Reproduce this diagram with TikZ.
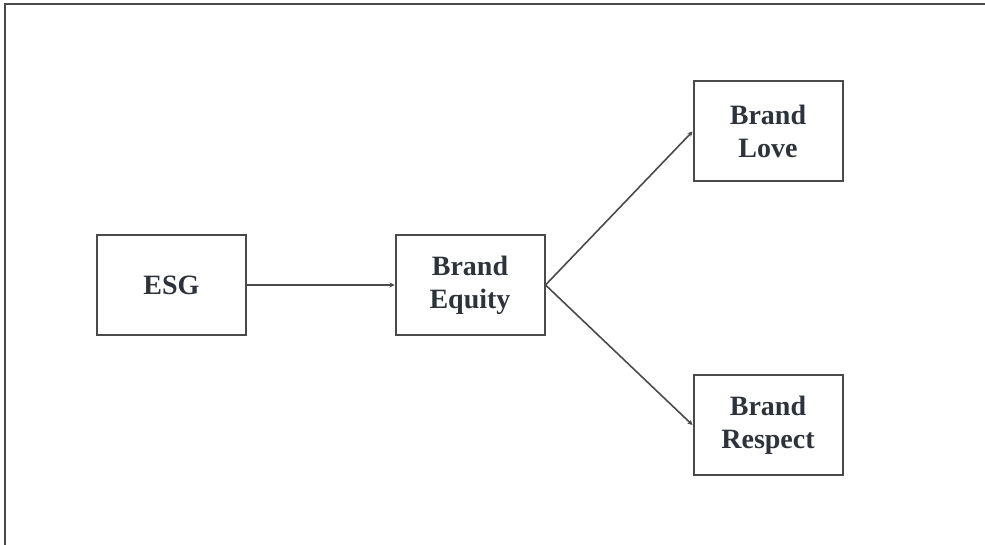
\documentclass[tikz,border=0pt]{standalone}
\usepackage{fontspec}
\setmainfont{Liberation Serif}
\usepackage{xcolor}
\usetikzlibrary{arrows.meta}
\definecolor{inkgray}{HTML}{2E333B}
\definecolor{linegray}{HTML}{4A4A4A}
\tikzset{
  concept/.style={draw=linegray,line width=2pt,minimum width=149pt,minimum height=100pt,
    align=center,text=inkgray,font=\fontsize{28}{33}\selectfont\bfseries},
  link/.style={draw=linegray,line width=1.6pt,-{Stealth[length=5pt,width=5pt]}}
}
\begin{document}
\begin{tikzpicture}[x=1pt,y=-1pt]
		\useasboundingbox (0,0) rectangle (985,545);
		% frame
		\draw[linegray,line width=2pt] (5,545)--(5,4)--(985,4);
		% constructs
		\node[concept] (esg) at (171.5,285) {ESG};
		\node[concept] (equity) at (470,285) {Brand\\Equity};
		\node[concept] (love) at (768,131.5) {Brand\\Love};
		\node[concept] (respect) at (768,425) {Brand\\Respect};
		% paths
		\draw[link] (esg.east)--(equity.west);
		\draw[link] (equity.east)--(love.west);
		\draw[link] (equity.east)--(respect.west);
	\end{tikzpicture}
\end{document}
